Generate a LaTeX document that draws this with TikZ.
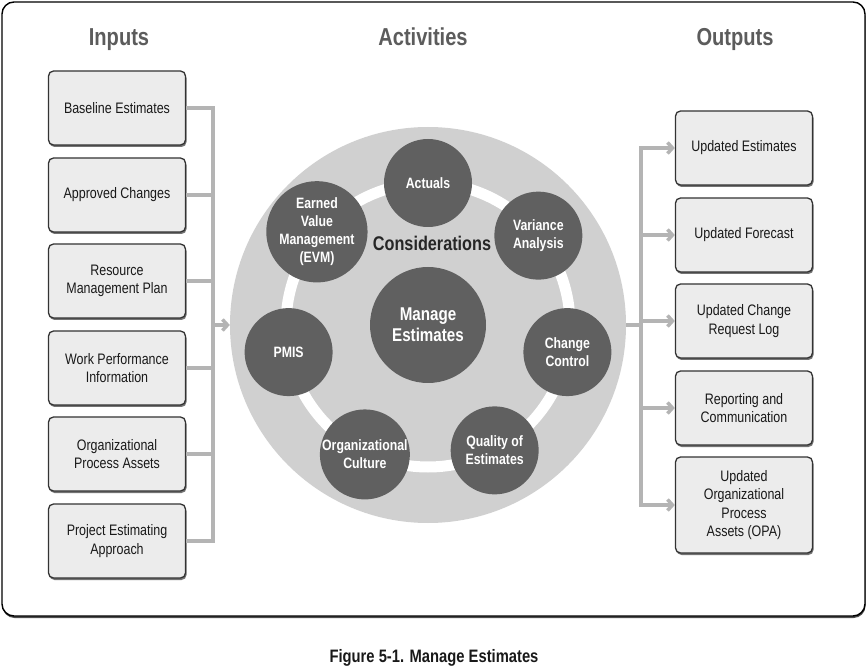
\documentclass[tikz,border=0pt]{standalone}
\usepackage{fontspec}
\setmainfont{Liberation Sans}[FakeStretch=0.82]
\usetikzlibrary{arrows.meta,shadows}
\definecolor{boxfill}{HTML}{ECECEC}
\definecolor{boxline}{HTML}{333333}
\definecolor{conn}{HTML}{B4B4B4}
\definecolor{bigc}{HTML}{D0D0D0}
\definecolor{darkc}{HTML}{606060}
\definecolor{headc}{HTML}{5C5C5C}
\tikzset{
  iobox/.style={draw=boxline, line width=1.3pt, fill=boxfill, rounded corners=5pt,
    minimum width=137pt, minimum height=74pt, align=center, text=black!90,
    font=\fontsize{15.2}{18.5}\selectfont,
    drop shadow={shadow xshift=1pt, shadow yshift=-2pt, fill=black!55, opacity=1}},
  cons/.style={circle, fill=darkc, minimum size=88pt, inner sep=0pt, align=center,
    text=white, font=\bfseries\fontsize{15}{18}\selectfont},
  hdr/.style={text=headc, anchor=base, font=\bfseries\fontsize{24.5}{28}\selectfont},
  conline/.style={draw=conn, line width=3.5pt},
  conarrow/.style={conline, -{Straight Barb[length=5pt,width=11pt]}}
}
\begin{document}
\begin{tikzpicture}[x=1pt,y=-1pt]
\useasboundingbox (0,0) rectangle (868,668);
% frame
\draw[line width=1.4pt, rounded corners=12pt, fill=white,
  drop shadow={shadow xshift=0.5pt, shadow yshift=-2pt, fill=black!70, opacity=1}]
  (2,2) rectangle (865,616);
% headers
\node[hdr] (hin) at (119,46) {Inputs};
\node[hdr] (hact) at (423,46) {Activities};
\node[hdr] (hout) at (735,46) {Outputs};
% input boxes
\node[iobox] (i1) at (117,108) {Baseline Estimates};
\node[iobox] (i2) at (117,195) {Approved Changes};
\node[iobox] (i3) at (117,281) {Resource\\Management Plan};
\node[iobox] (i4) at (117,368) {Work Performance\\Information};
\node[iobox] (i5) at (117,454) {Organizational\\Process Assets};
\node[iobox] (i6) at (117,541) {Project Estimating\\Approach};
% output boxes
\node[iobox] (o1) at (744,148) {Updated Estimates};
\node[iobox] (o2) at (744,235) {Updated Forecast};
\node[iobox] (o3) at (744,321) {Updated Change\\Request Log};
\node[iobox] (o4) at (744,408) {Reporting and\\Communication};
\node[iobox, minimum height=96pt] (o5) at (744,505) {Updated\\Organizational\\Process\\Assets (OPA)};
% big circle
\node[circle, fill=bigc, minimum size=396pt, inner sep=0pt] (big) at (428,325) {};
\draw[white, line width=11pt] (big.center) circle[radius=142pt];
% center
\node[cons, minimum size=116pt, font=\bfseries\fontsize{18.5}{21}\selectfont] (mgr) at (428,325) {Manage\\Estimates};
\node[text=black!85, font=\bfseries\fontsize{19.8}{23}\selectfont] (consid) at (432,243) {Considerations};
% considerations circles
\begin{scope}[shift={(428,325)}, y=1pt]
\node[cons] (c1) at (90:142) {Actuals};
\node[cons] (c2) at (39:142) {Variance\\Analysis};
\node[cons] (c3) at (-11:142) {Change\\Control};
\node[cons] (c4) at (-62:142) {Quality of\\Estimates};
\node[cons] (c5) at (-116:144) {Organizational\\Culture};
\node[cons] (c6) at (-169:142) {PMIS};
\node[cons, font=\bfseries\fontsize{15}{18}\selectfont] (c7) at (140:145) {Earned\\Value\\Management\\(EVM)};
\end{scope}
% input connectors
\coordinate (ibus) at (213,108);
\coordinate (ibusb) at (213,541);
\draw[conline] (i1.east) -- (ibus) -- (ibusb) -- (i6.east);
\foreach \n in {i2,i3,i4,i5} \draw[conline] (\n.east) -- (\n.east -| ibus);
\draw[conarrow] (ibus |- big.west) -- (big.west);
% output connectors
\coordinate (obus) at (641,148);
\coordinate (obusb) at (641,505);
\draw[conline] (big.east) -- (big.east -| obus);
\draw[conline, line cap=rect] (obus) -- (obusb);
\foreach \n in {o1,o2,o3,o4,o5} \draw[conarrow] (\n.west -| obus) -- (\n.west);
% caption
\node[font=\bfseries\fontsize{18}{21}\selectfont, text=black!90] (cap) at (434,658) {Figure 5-1. Manage Estimates};
\end{tikzpicture}
\end{document}
